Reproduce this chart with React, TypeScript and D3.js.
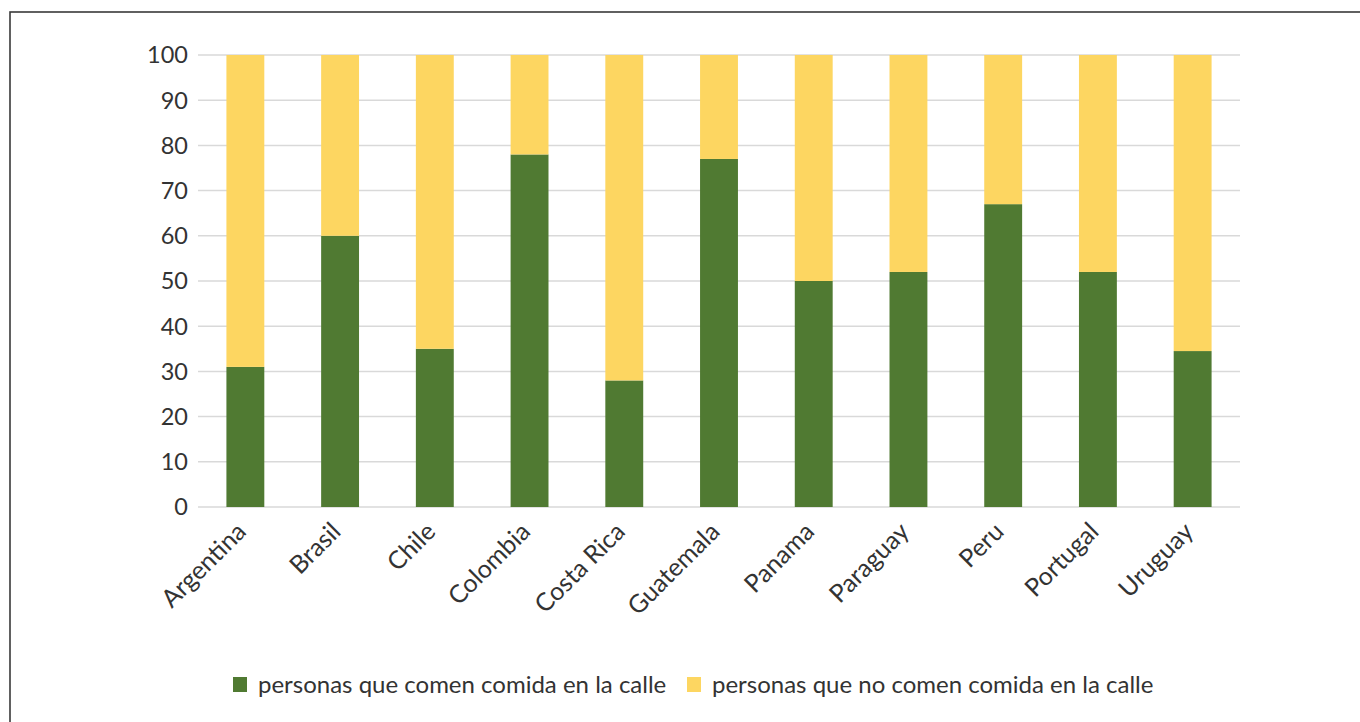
import React from "react";
import * as d3 from "d3";

const countries = ["Argentina", "Brasil", "Chile", "Colombia", "Costa Rica", "Guatemala", "Panama", "Paraguay", "Peru", "Portugal", "Uruguay"];
const comen = [31, 60, 35, 78, 28, 77, 50, 52, 67, 52, 34.5];
const noComen = comen.map((v) => 100 - v);
const yTicks = [0, 10, 20, 30, 40, 50, 60, 70, 80, 90, 100];
const seriesNames = ["personas que comen comida en la calle", "personas que no comen comida en la calle"];
const seriesColors = ["#507A32", "#FDD661"];

const W = 1360;
const H = 722;
const FONT = "Lato, 'Open Sans', sans-serif";

export default function App() {
  const x = d3.scaleBand<string>().domain(countries).range([198, 1240]).paddingInner(0.6).paddingOuter(0.3);
  const y = d3.scaleLinear().domain([0, 100]).range([507, 55]);
  const stackData = countries.map((c, i) => ({ country: c, a: comen[i], b: noComen[i] }));
  const stack = d3.stack<any>().keys(["a", "b"])(stackData);

  return (
    <svg width={W} height={H} style={{ position: "absolute", left: 0, top: 0, background: "#fff" }} fontFamily={FONT}>
      <rect x={0} y={0} width={W} height={H} fill="#fff" />
      <rect x={10} y={12} width={W + 20} height={H + 20} fill="none" stroke="#3a3a3a" strokeWidth={1.6} />
      {yTicks.map((t) => (
        <g key={t}>
          <line x1={198} x2={1240} y1={y(t)} y2={y(t)} stroke="#d9d9d9" strokeWidth={1.5} />
          <text x={188} y={y(t)} dy="0.36em" textAnchor="end" fontSize={23.5} fill="#333">
            {t}
          </text>
        </g>
      ))}
      {stack.map((layer, li) => (
        <g key={li} fill={seriesColors[li]}>
          {layer.map((d, i) => (
            <rect key={i} x={x(countries[i])} width={x.bandwidth()} y={y(d[1])} height={y(d[0]) - y(d[1])} />
          ))}
        </g>
      ))}
      {countries.map((c) => (
        <text
          key={c}
          transform={`translate(${(x(c) as number) + x.bandwidth() / 2 - 4},${527}) rotate(-45)`}
          textAnchor="end"
          dy="0.35em"
          fontSize={25}
          fill="#333"
        >
          {c}
        </text>
      ))}
      <g>
        <rect x={233} y={677} width={14} height={15} fill={seriesColors[0]} />
        <text x={258} y={685} dy="0.35em" fontSize={24} fill="#333">
          {seriesNames[0]}
        </text>
        <rect x={687} y={677} width={14} height={15} fill={seriesColors[1]} />
        <text x={712} y={685} dy="0.35em" fontSize={24} fill="#333">
          {seriesNames[1]}
        </text>
      </g>
    </svg>
  );
}
